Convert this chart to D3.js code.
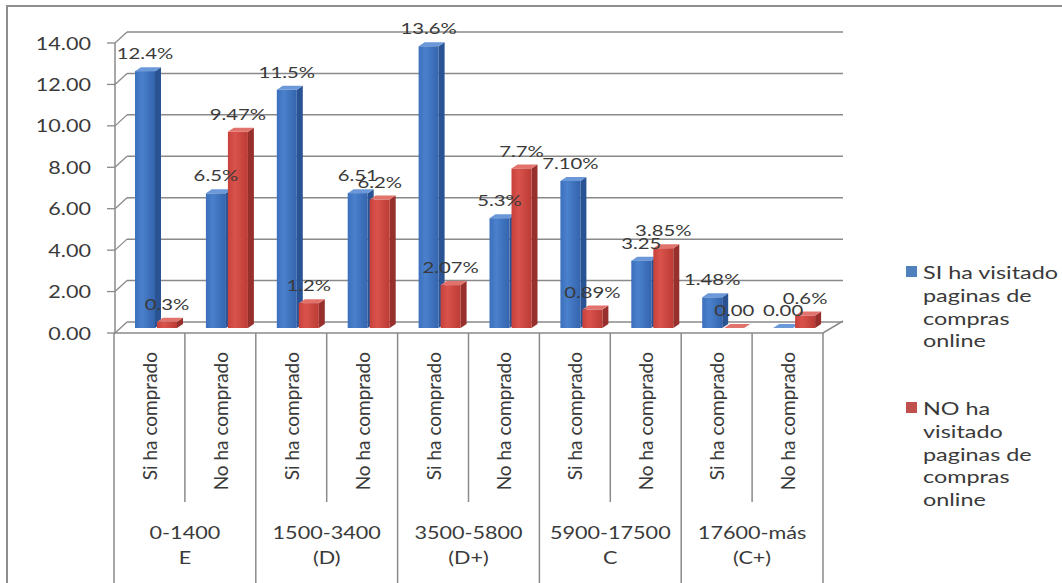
<!DOCTYPE html>
<html><head><meta charset="utf-8">
<script src="https://cdn.jsdelivr.net/npm/d3@7"></script>
<style>body{margin:0;background:#fff}svg{display:block}</style>
</head><body><svg id="c" width="1062" height="583"></svg>
<script>
// ---- data ----
const groupLine1 = ["0-1400", "1500-3400", "3500-5800", "5900-17500", "17600-más"];
const groupLine2 = ["E", "(D)", "(D+)", "C", "(C+)"];
const subcats = ["Si ha comprado", "No ha comprado"];
const seriesNames = ["SI ha visitado paginas de compras online", "NO ha visitado paginas de compras online"];
const seriesLegendLines = [["SI ha visitado", "paginas de", "compras", "online"], ["NO ha", "visitado", "paginas de", "compras", "online"]];
const blueValues = [12.4, 6.5, 11.5, 6.51, 13.6, 5.3, 7.10, 3.25, 1.48, 0.00];
const redValues  = [0.3, 9.47, 1.2, 6.2, 2.07, 7.7, 0.89, 3.85, 0.00, 0.6];
const blueLabels = ["12.4%", "6.5%", "11.5%", "6.51", "13.6%", "5.3%", "7.10%", "3.25", "1.48%", "0.00"];
const redLabels  = ["0.3%", "9.47%", "1.2%", "6.2%", "2.07%", "7.7%", "0.89%", "3.85%", "0.00", "0.6%"];
const yTicks = [0, 2, 4, 6, 8, 10, 12, 14];
const yTickLabels = ["0.00", "2.00", "4.00", "6.00", "8.00", "10.00", "12.00", "14.00"];

// ---- layout ----
const svg = d3.select("#c");
const FONT = "Lato, 'Open Sans', sans-serif";
const TXT = "#3a3a3a";
const GRID = "#8a8a8a";
const backDX = 13, backDY = -11;   // back wall offset
const midDY = -5;                  // bars stand at mid depth
const barSideDX = 6, barSideDY = -4;

svg.append("rect").attr("width", 1062).attr("height", 583).attr("fill", "#fff");
// outer chart border (top & left visible)
svg.append("path").attr("d", "M7,583 L7,6 L1062,6").attr("fill", "none").attr("stroke", "#8e8e8e").attr("stroke-width", 2);

const slots = d3.range(groupLine1.length * subcats.length);
const x = d3.scaleBand().domain(slots).range([114, 823]).padding(0);
const inner = d3.scaleBand().domain([0, 1]).range([21, 65]).padding(0);
const y = d3.scaleLinear().domain([0, 14]).range([333, 43]);

const defs = svg.append("defs");
function grad(id, stops) {
  const g = defs.append("linearGradient").attr("id", id).attr("x1", 0).attr("x2", 1).attr("y1", 0).attr("y2", 0);
  stops.forEach(([o, c]) => g.append("stop").attr("offset", o).attr("stop-color", c));
}
grad("gBlue", [[0, "#3c70bd"], [0.35, "#4a80cc"], [1, "#3464ad"]]);
grad("gRed", [[0, "#c8423c"], [0.35, "#d9534c"], [1, "#bb3b35"]]);
const colors = [
  {front: "url(#gBlue)", side: "#2a5394", top: "#6b98d8", legend: "#4f81bd"},
  {front: "url(#gRed)", side: "#97302c", top: "#e2736c", legend: "#c0504d"}
];

// ---- walls / gridlines ----
const x0 = x.range()[0], x1 = x.range()[1];
const grid = svg.append("g");
yTicks.forEach(v => {
  const yy = y(v);
  grid.append("line").attr("x1", x0 + backDX).attr("x2", x1 + 20).attr("y1", yy + backDY).attr("y2", yy + backDY)
    .attr("stroke", GRID).attr("stroke-width", 1.5);
  grid.append("line").attr("x1", x0 + 1).attr("x2", x0 + backDX).attr("y1", yy).attr("y2", yy + backDY)
    .attr("stroke", GRID).attr("stroke-width", 1.3);
  grid.append("line").attr("x1", x0 - 7).attr("x2", x0 + 1).attr("y1", yy).attr("y2", yy)
    .attr("stroke", GRID).attr("stroke-width", 1.3);
});
// floor
grid.append("path").attr("d", `M${x0},${y(0)} L${x1},${y(0)} L${x1 + 20},${y(0) - 12} `)
  .attr("fill", "none").attr("stroke", GRID).attr("stroke-width", 1.5);
// value axis line
grid.append("line").attr("x1", x0 + 1).attr("x2", x0 + 1).attr("y1", y(14)).attr("y2", y(0))
  .attr("stroke", GRID).attr("stroke-width", 1.5);

// ---- y tick labels ----
svg.append("g").selectAll("text").data(yTicks).join("text")
  .attr("transform", (d) => `translate(91,${y(d)}) scale(1.27,1)`)
  .attr("text-anchor", "end").attr("dominant-baseline", "central")
  .attr("font-family", FONT).attr("font-size", 17).attr("fill", TXT)
  .text((d, i) => yTickLabels[i]);

// ---- bars ----
const barG = svg.append("g");
function drawBar(slot, s, v) {
  const bx = x(slot) + inner(s);
  const w = inner.bandwidth() - 2;
  const base = y(0) + midDY;
  const top = y(v) + midDY;
  const c = colors[s];
  const g = barG.append("g");
  g.append("path").attr("d", `M${bx + w},${base} L${bx + w + barSideDX},${base + barSideDY} L${bx + w + barSideDX},${top + barSideDY} L${bx + w},${top} Z`).attr("fill", c.side);
  g.append("path").attr("d", `M${bx},${top} L${bx + barSideDX},${top + barSideDY} L${bx + w + barSideDX},${top + barSideDY} L${bx + w},${top} Z`).attr("fill", c.top);
  g.append("rect").attr("x", bx).attr("y", top).attr("width", w).attr("height", Math.max(0, base - top)).attr("fill", c.front);
}
slots.forEach(i => { drawBar(i, 0, blueValues[i]); drawBar(i, 1, redValues[i]); });

// ---- data labels ----
const lab = svg.append("g");
function drawLabel(slot, s, v, t) {
  const bx = x(slot) + inner(s) + (inner.bandwidth() - 2) / 2 + barSideDX / 2 - 3;
  const ty = y(v) + midDY - 18;
  lab.append("text").attr("transform", `translate(${bx},${ty}) scale(1.27,1)`)
    .attr("text-anchor", "middle").attr("dominant-baseline", "central")
    .attr("font-family", FONT).attr("font-size", 16).attr("fill", TXT).text(t);
}
slots.forEach(i => { drawLabel(i, 0, blueValues[i], blueLabels[i]); drawLabel(i, 1, redValues[i], redLabels[i]); });

// ---- category axis ----
const cat = svg.append("g");
d3.range(slots.length + 1).forEach(k => {
  const xx = k < slots.length ? x(k) : x1;
  const isGroup = k % subcats.length === 0;
  cat.append("line").attr("x1", xx).attr("x2", xx).attr("y1", y(0)).attr("y2", isGroup ? 583 : 502)
    .attr("stroke", GRID).attr("stroke-width", 1.5);
});
slots.forEach(i => {
  const cx = x(i) + x.bandwidth() / 2;
  cat.append("text").attr("transform", `translate(${cx},352) rotate(-90)`)
    .attr("text-anchor", "end").attr("dominant-baseline", "central")
    .attr("font-family", FONT).attr("font-size", 19).attr("fill", TXT)
    .text(subcats[i % subcats.length]);
});
groupLine1.forEach((g, gi) => {
  const cx = x(gi * subcats.length) + x.bandwidth();
  cat.append("text").attr("transform", `translate(${cx},532) scale(1.2,1)`)
    .attr("text-anchor", "middle").attr("dominant-baseline", "central")
    .attr("font-family", FONT).attr("font-size", 18).attr("fill", TXT).text(g);
  cat.append("text").attr("transform", `translate(${cx},557) scale(1.2,1)`)
    .attr("text-anchor", "middle").attr("dominant-baseline", "central")
    .attr("font-family", FONT).attr("font-size", 18).attr("fill", TXT).text(groupLine2[gi]);
});

// ---- legend ----
const leg = svg.append("g");
const legTops = [272, 408];
seriesNames.forEach((name, s) => {
  leg.append("rect").attr("x", 906).attr("y", legTops[s] - 6).attr("width", 11).attr("height", 11).attr("fill", colors[s].legend);
  seriesLegendLines[s].forEach((line, li) => {
    leg.append("text").attr("transform", `translate(923,${legTops[s] + li * 22.7}) scale(1.3,1)`)
      .attr("dominant-baseline", "central").attr("font-family", FONT).attr("font-size", 18).attr("fill", TXT).text(line);
  });
});
</script></body></html>
